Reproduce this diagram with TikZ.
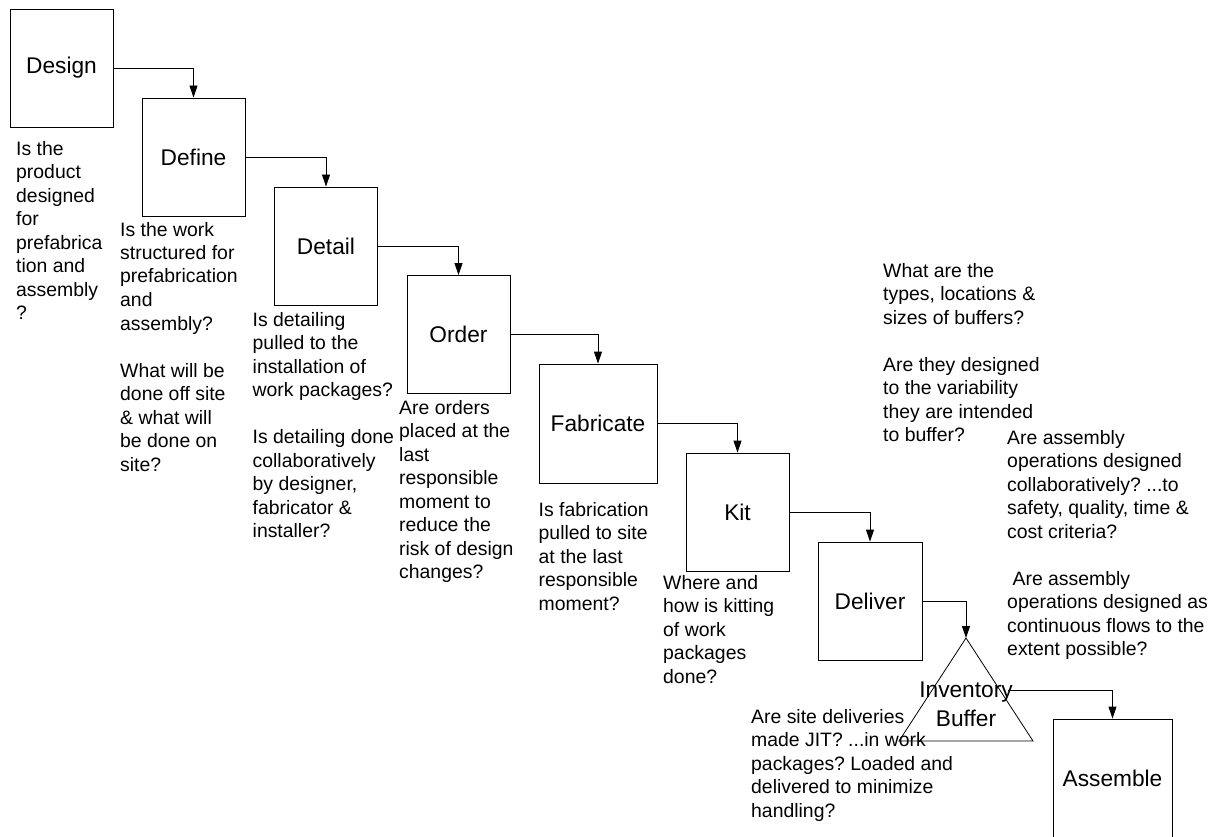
\documentclass[tikz,border=0pt]{standalone}
\usepackage{fontspec}
\setmainfont{Liberation Sans}
\usetikzlibrary{arrows.meta}
\frenchspacing
\newcommand\mlL[1]{\vtop{\halign{##\hfil\cr#1\crcr}}}
\newcommand\mlC[1]{\vtop{\halign{\hfil##\hfil\cr#1\crcr}}}
\tikzset{
  box/.style={draw, line width=0.9pt, minimum width=103pt, minimum height=118pt, inner sep=0pt,
              font=\fontsize{22.7}{27}\selectfont},
  q/.style={anchor=base west, inner sep=0pt, font=\fontsize{19.4}{23.5}\selectfont},
  arr/.style={draw, line width=0.9pt, -{Triangle[length=12pt,width=8pt]}},
  tri/.style={draw, line width=0.8pt},
}
\begin{document}
\begin{tikzpicture}[x=1pt,y=-1pt]
\path[use as bounding box, fill=white] (0,0) rectangle (1220,837);

% process boxes
\node[box] (design) at (61.5,68) {Design};
\node[box] (define) at (193.5,157) {Define};
\node[box] (detail) at (326,246) {Detail};
\node[box] (order) at (458.5,334.5) {Order};
\node[box, minimum width=118pt, minimum height=119pt] (fab) at (598,423.5) {Fabricate};
\node[box] (kit) at (737.5,512) {Kit};
\node[box, minimum width=104pt] (deliver) at (870,601) {Deliver};
\node[box, minimum width=119pt] (assemble) at (1112.5,778) {Assemble};

% inventory buffer triangle
\coordinate (apex) at (966,638);
\coordinate (bl) at (899,741);
\coordinate (br) at (1033,741);
\draw[tri] (apex) -- (br) -- (bl) -- cycle;
\node[inner sep=0pt, anchor=base, font=\fontsize{22.7}{29.4}\selectfont] (inv) at (966,697)
  {\mlC{Inventory\cr Buffer}};
\coordinate (invout) at (1008,690);

% connectors
\draw[arr] (design.east) -| (define.north);
\draw[arr] (define.east) -| (detail.north);
\draw[arr] (detail.east) -| (order.north);
\draw[arr] (order.east) -| (fab.north);
\draw[arr] (fab.east) -| (kit.north);
\draw[arr] (kit.east) -| (deliver.north);
\draw[arr] (deliver.east) -| (apex);
\draw[arr] (invout) -| (assemble.north);

% questions
\node[q] (qdesign) at (16,155.5) {\mlL{Is the\cr product\cr designed\cr for\cr prefabrica\cr tion and\cr assembly\cr ?}};
\node[q] (qdefine) at (120,236) {\mlL{Is the work\cr structured for\cr prefabrication\cr and\cr assembly?\cr \cr What will be\cr done off site\cr \& what will\cr be done on\cr site?}};
\node[q] (qdetail) at (252.5,326) {\mlL{Is detailing\cr pulled to the\cr installation of\cr work packages?\cr \cr Is detailing done\cr collaboratively\cr by designer,\cr fabricator \&\cr installer?}};
\node[q] (qorder) at (399,414) {\mlL{Are orders\cr placed at the\cr last\cr responsible\cr moment to\cr reduce the\cr risk of design\cr changes?}};
\node[q] (qfab) at (538.5,516) {\mlL{Is fabrication\cr pulled to site\cr at the last\cr responsible\cr moment?}};
\node[q] (qkit) at (663,589) {\mlL{Where and\cr how is kitting\cr of work\cr packages\cr done?}};
\node[q] (qdeliver) at (751,723) {\mlL{Are site deliveries\cr made JIT? ...in work\cr packages? Loaded and\cr delivered to minimize\cr handling?}};
\node[q] (qbuffer) at (883,277) {\mlL{What are the\cr types, locations \&\cr sizes of buffers?\cr \cr Are they designed\cr to the variability\cr they are intended\cr to buffer?}};
\node[q] (qassemble) at (1007,444) {\mlL{Are assembly\cr operations designed\cr collaboratively? ...to\cr safety, quality, time \&\cr cost criteria?\cr \cr \ Are assembly\cr operations designed as\cr continuous flows to the\cr extent possible?}};
\end{tikzpicture}
\end{document}
